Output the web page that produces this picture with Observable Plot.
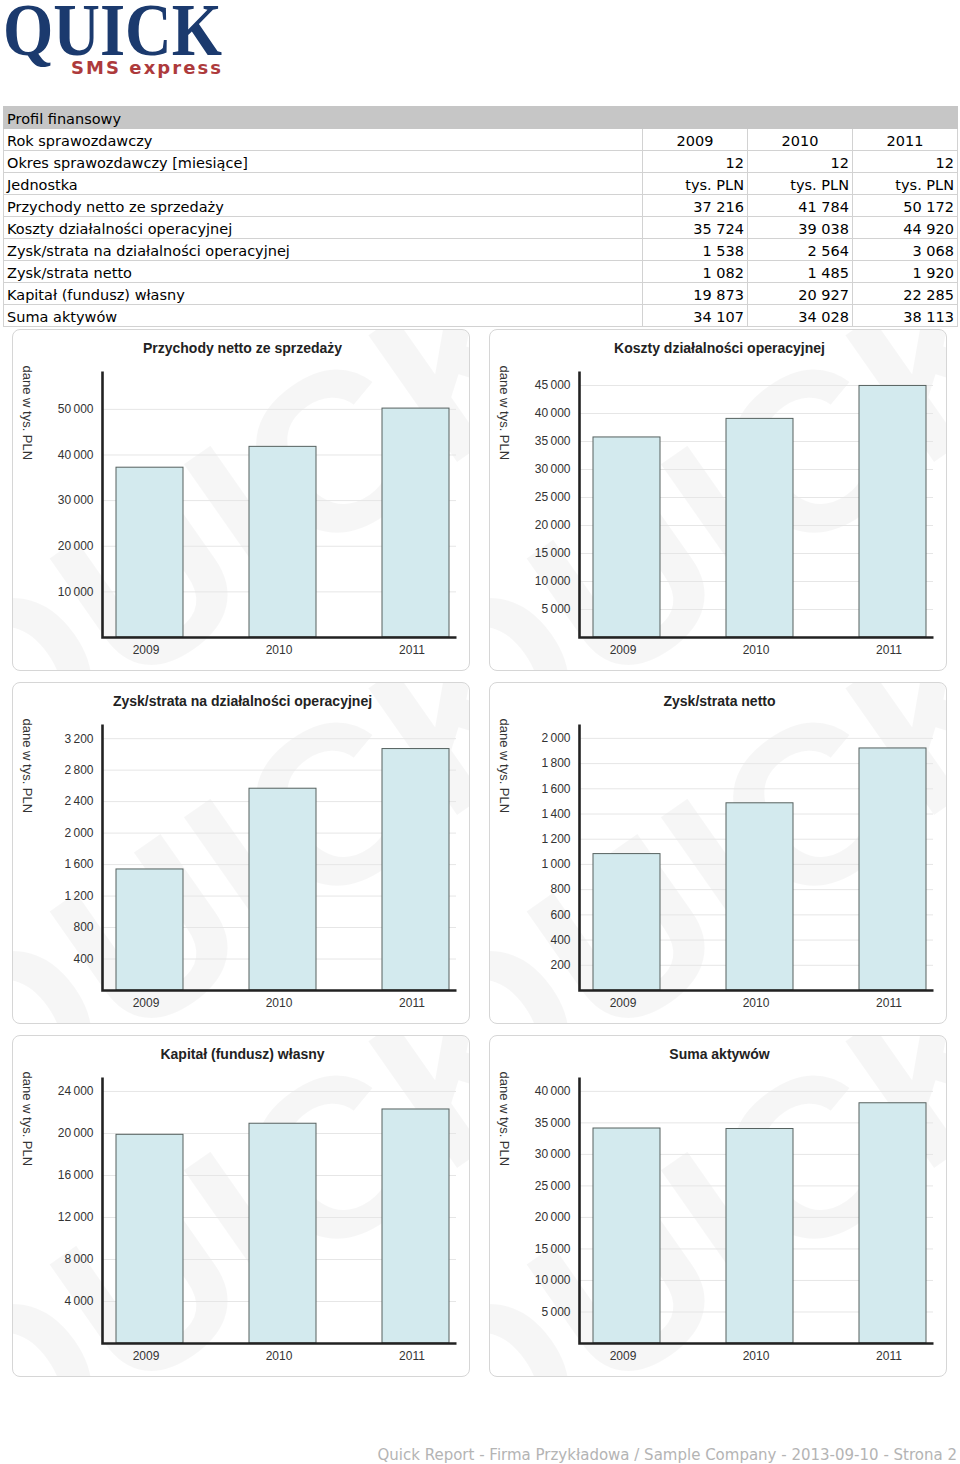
<!DOCTYPE html>
<html><head><meta charset="utf-8">
<script src="https://cdn.jsdelivr.net/npm/d3@7"></script>
<script src="https://cdn.jsdelivr.net/npm/@observablehq/plot@0.6"></script>
<style>
body{margin:0;background:#fff;}
#page{position:relative;width:960px;height:1464px;overflow:hidden;font-family:"DejaVu Sans",Verdana,sans-serif;}
#logo{position:absolute;left:0;top:0;}
#tbl{position:absolute;left:3px;top:106px;width:954px;border-collapse:collapse;table-layout:fixed;font-size:14.5px;color:#000;}
#tbl td{line-height:18px;padding:3px 3px 0;border:1px solid #d2d2d2;white-space:nowrap;}
#tbl td.num{text-align:right;}
#tbl td.yr{text-align:center;}
#tbl tr.head td{background:#c6c6c6;border-color:#c6c6c6;}
.panel{position:absolute;width:458px;height:342px;box-sizing:border-box;border:1px solid #d6d6d6;border-radius:8px;overflow:hidden;background:#fff;}
.panel svg{display:block;}
#footer{position:absolute;right:3px;top:1446px;font-size:15px;color:#b4b4b4;white-space:nowrap;}
</style>
</head><body>
<div id="page">
  <svg id="logo" width="240" height="86">
    <text x="3" y="55" font-family="Liberation Serif, serif" font-weight="bold" font-size="74" fill="#1b3a6e" textLength="219" lengthAdjust="spacingAndGlyphs">QUICK</text>
    <text x="71" y="74" font-family="DejaVu Sans, sans-serif" font-weight="bold" font-size="18" fill="#ad3a3c" textLength="150" lengthAdjust="spacing">SMS express</text>
  </svg>
  <table id="tbl"><colgroup><col style="width:639px"><col style="width:105px"><col style="width:105px"><col style="width:105px"></colgroup><tbody></tbody></table>
  <div id="panels"></div>
  <div id="footer">Quick Report - Firma Przykładowa / Sample Company - 2013-09-10 - Strona 2</div>
</div>
<script>
// ---- data ----
const years = ["2009", "2010", "2011"];
const tableHeader = "Profil finansowy";
const rowLabels = [
  "Rok sprawozdawczy",
  "Okres sprawozdawczy [miesiące]",
  "Jednostka",
  "Przychody netto ze sprzedaży",
  "Koszty działalności operacyjnej",
  "Zysk/strata na działalności operacyjnej",
  "Zysk/strata netto",
  "Kapitał (fundusz) własny",
  "Suma aktywów"
];
const periods = [12, 12, 12];
const units = ["tys. PLN", "tys. PLN", "tys. PLN"];
const przychody = [37216, 41784, 50172];
const koszty = [35724, 39038, 44920];
const zyskOperacyjny = [1538, 2564, 3068];
const zyskNetto = [1082, 1485, 1920];
const kapital = [19873, 20927, 22285];
const aktywa = [34107, 34028, 38113];

const chartTitles = [
  "Przychody netto ze sprzedaży",
  "Koszty działalności operacyjnej",
  "Zysk/strata na działalności operacyjnej",
  "Zysk/strata netto",
  "Kapitał (fundusz) własny",
  "Suma aktywów"
];
const yAxisLabel = "dane w tys. PLN";
const yMax = [58300, 47500, 3380, 2110, 25330, 42200];
const ticksPrzychody = [10000, 20000, 30000, 40000, 50000];
const ticksKoszty = [5000, 10000, 15000, 20000, 25000, 30000, 35000, 40000, 45000];
const ticksZyskOp = [400, 800, 1200, 1600, 2000, 2400, 2800, 3200];
const ticksZyskNetto = [200, 400, 600, 800, 1000, 1200, 1400, 1600, 1800, 2000];
const ticksKapital = [4000, 8000, 12000, 16000, 20000, 24000];
const ticksAktywa = [5000, 10000, 15000, 20000, 25000, 30000, 35000, 40000];
const watermark = "QUICK";

// ---- table ----
const fmt = v => d3.format(",")(v).replace(/,/g, " ");
const tickFmt = v => d3.format(",")(v).replace(/,/g, "\u2009");
const tbody = document.querySelector("#tbl tbody");
function addRow(cells, cls) {
  const tr = document.createElement("tr");
  if (cls) tr.className = cls;
  cells.forEach(c => {
    const td = document.createElement("td");
    td.textContent = c.text;
    if (c.cls) td.className = c.cls;
    if (c.span) td.colSpan = c.span;
    tr.appendChild(td);
  });
  tbody.appendChild(tr);
}
addRow([{text: tableHeader, span: 4}], "head");
addRow([{text: rowLabels[0]}, ...years.map(y => ({text: y, cls: "yr"}))]);
addRow([{text: rowLabels[1]}, ...periods.map(v => ({text: String(v), cls: "num"}))]);
addRow([{text: rowLabels[2]}, ...units.map(v => ({text: v, cls: "num"}))]);
const series = [przychody, koszty, zyskOperacyjny, zyskNetto, kapital, aktywa];
series.forEach((s, i) => addRow([{text: rowLabels[3 + i]}, ...s.map(v => ({text: fmt(v), cls: "num"}))]));

// ---- charts ----
const tickSets = [ticksPrzychody, ticksKoszty, ticksZyskOp, ticksZyskNetto, ticksKapital, ticksAktywa];
const panelLeft = [12, 489];
const panelTop = [329, 682, 1035];
const W = 456, H = 340, mL = 89, mR = 13, mT = 41, mB = 33;
const fw = W - mL - mR, fh = H - mT - mB;

function chart(i) {
  const data = years.map((y, k) => ({year: y, value: series[i][k]}));
  const ticks = tickSets[i];
  return Plot.plot({
    width: W, height: H,
    marginLeft: mL, marginRight: mR, marginTop: mT, marginBottom: mB,
    style: {fontFamily: '"Liberation Sans", Arial, sans-serif', fontSize: "12px", color: "#333", background: "transparent"},
    x: {domain: years, range: [36.5, 502], padding: 0.5, label: null},
    y: {domain: [0, yMax[i]], label: null},
    marks: [
      Plot.text([watermark], {frameAnchor: "middle", dx: -40, dy: 22, rotate: -35, fontSize: 225, fontWeight: "bold", fill: "#000", fillOpacity: 0.035, fontFamily: '"Liberation Sans", Arial, sans-serif'}),
      Plot.gridY(ticks, {stroke: "#e6e6e6", strokeOpacity: 1}),
      Plot.barY(data, {x: "year", y: "value", fill: "#d3eaee", stroke: "#56615f", strokeWidth: 1}),
      Plot.frame({stroke: "#222", strokeWidth: 2.6, strokeDasharray: `0 ${fw + fh} ${fw + fh} 0`}),
      Plot.axisY(ticks, {tickSize: 0, tickPadding: 9, tickFormat: tickFmt, fontSize: 12, fill: "#333"}),
      Plot.axisX({tickSize: 0, tickPadding: 8, dx: -4, fontSize: 12, fill: "#333"}),
      Plot.text([chartTitles[i]], {frameAnchor: "top", dx: -37, dy: -23, lineAnchor: "middle", fontWeight: "bold", fontSize: 14, fill: "#222"}),
      Plot.text([yAxisLabel], {frameAnchor: "top-left", rotate: 90, dx: -75, dy: -6, textAnchor: "start", lineAnchor: "middle", fontSize: 13, fill: "#333"})
    ]
  });
}

const host = document.getElementById("panels");
for (let i = 0; i < 6; i++) {
  const div = document.createElement("div");
  div.className = "panel";
  div.style.left = panelLeft[i % 2] + "px";
  div.style.top = panelTop[Math.floor(i / 2)] + "px";
  div.appendChild(chart(i));
  host.appendChild(div);
}
</script>
</body></html>
